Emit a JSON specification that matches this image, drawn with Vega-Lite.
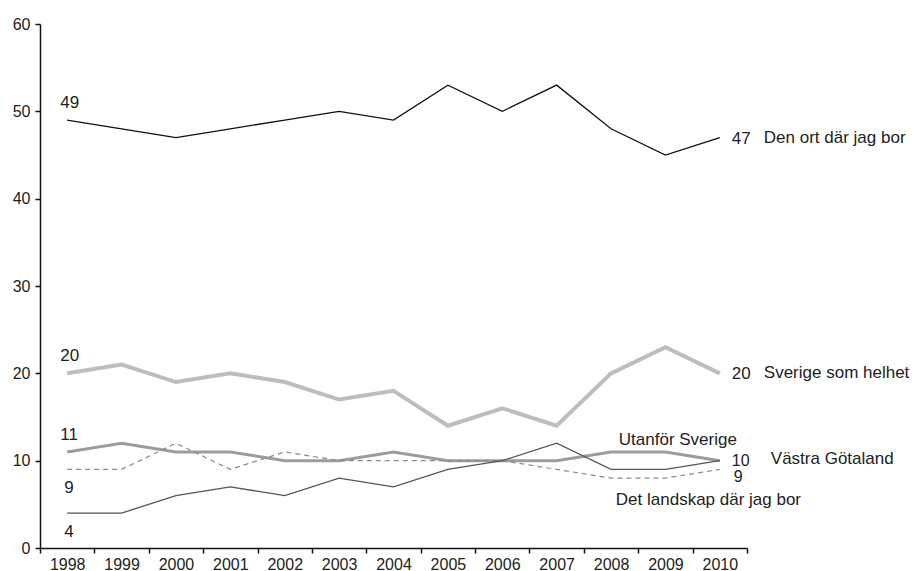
{
  "$schema": "https://vega.github.io/schema/vega-lite/v6.json",
  "width": 707,
  "height": 524,
  "autosize": {"type": "none"},
  "padding": {"left": 40, "top": 24, "right": 175, "bottom": 23},
  "background": "white",
  "config": {
    "view": {"stroke": null},
    "font": "Liberation Sans",
    "text": {"font": "Liberation Sans", "fontSize": 17, "color": "#222"}
  },
  "datasets": {
    "series": [
      {"year": "1998", "serie": "Den ort där jag bor", "v": 49},
      {"year": "1999", "serie": "Den ort där jag bor", "v": 48},
      {"year": "2000", "serie": "Den ort där jag bor", "v": 47},
      {"year": "2001", "serie": "Den ort där jag bor", "v": 48},
      {"year": "2002", "serie": "Den ort där jag bor", "v": 49},
      {"year": "2003", "serie": "Den ort där jag bor", "v": 50},
      {"year": "2004", "serie": "Den ort där jag bor", "v": 49},
      {"year": "2005", "serie": "Den ort där jag bor", "v": 53},
      {"year": "2006", "serie": "Den ort där jag bor", "v": 50},
      {"year": "2007", "serie": "Den ort där jag bor", "v": 53},
      {"year": "2008", "serie": "Den ort där jag bor", "v": 48},
      {"year": "2009", "serie": "Den ort där jag bor", "v": 45},
      {"year": "2010", "serie": "Den ort där jag bor", "v": 47},
      {"year": "1998", "serie": "Sverige som helhet", "v": 20},
      {"year": "1999", "serie": "Sverige som helhet", "v": 21},
      {"year": "2000", "serie": "Sverige som helhet", "v": 19},
      {"year": "2001", "serie": "Sverige som helhet", "v": 20},
      {"year": "2002", "serie": "Sverige som helhet", "v": 19},
      {"year": "2003", "serie": "Sverige som helhet", "v": 17},
      {"year": "2004", "serie": "Sverige som helhet", "v": 18},
      {"year": "2005", "serie": "Sverige som helhet", "v": 14},
      {"year": "2006", "serie": "Sverige som helhet", "v": 16},
      {"year": "2007", "serie": "Sverige som helhet", "v": 14},
      {"year": "2008", "serie": "Sverige som helhet", "v": 20},
      {"year": "2009", "serie": "Sverige som helhet", "v": 23},
      {"year": "2010", "serie": "Sverige som helhet", "v": 20},
      {"year": "1998", "serie": "Västra Götaland", "v": 11},
      {"year": "1999", "serie": "Västra Götaland", "v": 12},
      {"year": "2000", "serie": "Västra Götaland", "v": 11},
      {"year": "2001", "serie": "Västra Götaland", "v": 11},
      {"year": "2002", "serie": "Västra Götaland", "v": 10},
      {"year": "2003", "serie": "Västra Götaland", "v": 10},
      {"year": "2004", "serie": "Västra Götaland", "v": 11},
      {"year": "2005", "serie": "Västra Götaland", "v": 10},
      {"year": "2006", "serie": "Västra Götaland", "v": 10},
      {"year": "2007", "serie": "Västra Götaland", "v": 10},
      {"year": "2008", "serie": "Västra Götaland", "v": 11},
      {"year": "2009", "serie": "Västra Götaland", "v": 11},
      {"year": "2010", "serie": "Västra Götaland", "v": 10},
      {"year": "1998", "serie": "Det landskap där jag bor", "v": 9},
      {"year": "1999", "serie": "Det landskap där jag bor", "v": 9},
      {"year": "2000", "serie": "Det landskap där jag bor", "v": 12},
      {"year": "2001", "serie": "Det landskap där jag bor", "v": 9},
      {"year": "2002", "serie": "Det landskap där jag bor", "v": 11},
      {"year": "2003", "serie": "Det landskap där jag bor", "v": 10},
      {"year": "2004", "serie": "Det landskap där jag bor", "v": 10},
      {"year": "2005", "serie": "Det landskap där jag bor", "v": 10},
      {"year": "2006", "serie": "Det landskap där jag bor", "v": 10},
      {"year": "2007", "serie": "Det landskap där jag bor", "v": 9},
      {"year": "2008", "serie": "Det landskap där jag bor", "v": 8},
      {"year": "2009", "serie": "Det landskap där jag bor", "v": 8},
      {"year": "2010", "serie": "Det landskap där jag bor", "v": 9},
      {"year": "1998", "serie": "Utanför Sverige", "v": 4},
      {"year": "1999", "serie": "Utanför Sverige", "v": 4},
      {"year": "2000", "serie": "Utanför Sverige", "v": 6},
      {"year": "2001", "serie": "Utanför Sverige", "v": 7},
      {"year": "2002", "serie": "Utanför Sverige", "v": 6},
      {"year": "2003", "serie": "Utanför Sverige", "v": 8},
      {"year": "2004", "serie": "Utanför Sverige", "v": 7},
      {"year": "2005", "serie": "Utanför Sverige", "v": 9},
      {"year": "2006", "serie": "Utanför Sverige", "v": 10},
      {"year": "2007", "serie": "Utanför Sverige", "v": 12},
      {"year": "2008", "serie": "Utanför Sverige", "v": 9},
      {"year": "2009", "serie": "Utanför Sverige", "v": 9},
      {"year": "2010", "serie": "Utanför Sverige", "v": 10}
    ],
    "labels": [
      {"year": "1998", "v": 49, "t": "49", "k": "startAbove"},
      {"year": "1998", "v": 20, "t": "20", "k": "startAbove"},
      {"year": "1998", "v": 11, "t": "11", "k": "startAbove"},
      {"year": "1998", "v": 9, "t": "9", "k": "startBelow"},
      {"year": "1998", "v": 4, "t": "4", "k": "startBelow"},
      {"year": "2010", "v": 47, "t": "47", "k": "endNum"},
      {"year": "2010", "v": 20, "t": "20", "k": "endNum"},
      {"year": "2010", "v": 10, "t": "10", "k": "endNum10"},
      {"year": "2010", "v": 9, "t": "9", "k": "endNum9"},
      {"year": "2010", "v": 47, "t": "Den ort där jag bor", "k": "endName"},
      {"year": "2010", "v": 20, "t": "Sverige som helhet", "k": "endName"},
      {"year": "2010", "v": 10, "t": "Västra Götaland", "k": "endNameVG"},
      {"year": "2010", "v": 10, "t": "Utanför Sverige", "k": "utanfor"},
      {"year": "2010", "v": 9, "t": "Det landskap där jag bor", "k": "landskap"}
    ]
  },
  "encoding": {
    "x": {
      "field": "year",
      "type": "ordinal",
      "scale": {"type": "band", "paddingInner": 0, "paddingOuter": 0},
      "axis": {
        "title": null,
        "labelAngle": 0,
        "tickBand": "extent",
        "domainColor": "#111",
        "domainWidth": 1.5,
        "tickColor": "#111",
        "tickWidth": 1.5,
        "tickSize": 5,
        "labelPadding": 3,
        "labelFontSize": 16,
        "labelColor": "#222",
        "labelFont": "Liberation Sans",
        "grid": false
      }
    },
    "y": {
      "field": "v",
      "type": "quantitative",
      "scale": {"domain": [0, 60], "nice": false},
      "axis": {
        "title": null,
        "values": [0, 10, 20, 30, 40, 50, 60],
        "domainColor": "#111",
        "domainWidth": 1.5,
        "tickColor": "#111",
        "tickWidth": 1.5,
        "tickSize": 5,
        "labelPadding": 5,
        "labelFontSize": 16,
        "labelColor": "#222",
        "labelFont": "Liberation Sans",
        "grid": false
      }
    }
  },
  "layer": [
    {
      "data": {"name": "series"},
      "transform": [{"filter": "datum.serie === 'Sverige som helhet'"}],
      "mark": {"type": "line", "color": "#bdbdbd", "strokeWidth": 4}
    },
    {
      "data": {"name": "series"},
      "transform": [{"filter": "datum.serie === 'Västra Götaland'"}],
      "mark": {"type": "line", "color": "#9c9c9c", "strokeWidth": 3}
    },
    {
      "data": {"name": "series"},
      "transform": [{"filter": "datum.serie === 'Det landskap där jag bor'"}],
      "mark": {"type": "line", "color": "#8a8a8a", "strokeWidth": 1.2, "strokeDash": [5, 4]}
    },
    {
      "data": {"name": "series"},
      "transform": [{"filter": "datum.serie === 'Utanför Sverige'"}],
      "mark": {"type": "line", "color": "#555555", "strokeWidth": 1.3}
    },
    {
      "data": {"name": "series"},
      "transform": [{"filter": "datum.serie === 'Den ort där jag bor'"}],
      "mark": {"type": "line", "color": "#111111", "strokeWidth": 1.3}
    },
    {
      "data": {"name": "labels"},
      "transform": [{"filter": "datum.k === 'startAbove'"}],
      "mark": {"type": "text", "align": "left", "baseline": "alphabetic", "dx": -7, "dy": -12},
      "encoding": {"text": {"field": "t"}}
    },
    {
      "data": {"name": "labels"},
      "transform": [{"filter": "datum.k === 'startBelow'"}],
      "mark": {"type": "text", "align": "left", "baseline": "alphabetic", "dx": -3, "dy": 24},
      "encoding": {"text": {"field": "t"}}
    },
    {
      "data": {"name": "labels"},
      "transform": [{"filter": "datum.k === 'endNum'"}],
      "mark": {"type": "text", "align": "left", "baseline": "middle", "dx": 12, "dy": 1},
      "encoding": {"text": {"field": "t"}}
    },
    {
      "data": {"name": "labels"},
      "transform": [{"filter": "datum.k === 'endNum10'"}],
      "mark": {"type": "text", "align": "left", "baseline": "middle", "dx": 12, "dy": 0, "fontSize": 16},
      "encoding": {"text": {"field": "t"}}
    },
    {
      "data": {"name": "labels"},
      "transform": [{"filter": "datum.k === 'endNum9'"}],
      "mark": {"type": "text", "align": "left", "baseline": "middle", "dx": 14, "dy": 8, "fontSize": 16},
      "encoding": {"text": {"field": "t"}}
    },
    {
      "data": {"name": "labels"},
      "transform": [{"filter": "datum.k === 'endName'"}],
      "mark": {"type": "text", "align": "left", "baseline": "middle", "dx": 44, "dy": 0},
      "encoding": {"text": {"field": "t"}}
    },
    {
      "data": {"name": "labels"},
      "transform": [{"filter": "datum.k === 'endNameVG'"}],
      "mark": {"type": "text", "align": "left", "baseline": "middle", "dx": 51, "dy": -2},
      "encoding": {"text": {"field": "t"}}
    },
    {
      "data": {"name": "labels"},
      "transform": [{"filter": "datum.k === 'utanfor'"}],
      "mark": {"type": "text", "align": "left", "baseline": "middle", "dx": -101, "dy": -21},
      "encoding": {"text": {"field": "t"}}
    },
    {
      "data": {"name": "labels"},
      "transform": [{"filter": "datum.k === 'landskap'"}],
      "mark": {"type": "text", "align": "left", "baseline": "middle", "dx": -104, "dy": 31},
      "encoding": {"text": {"field": "t"}}
    }
  ]
}
